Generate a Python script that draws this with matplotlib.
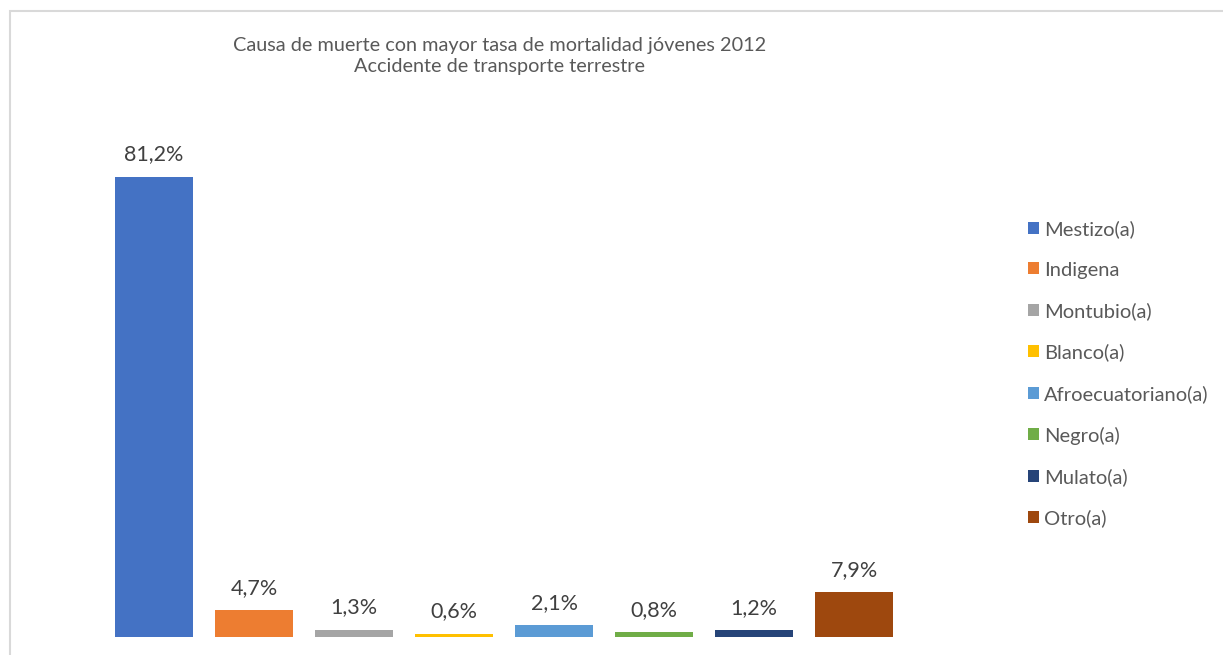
import matplotlib.pyplot as plt
from matplotlib.patches import Rectangle

categorias = ["Mestizo(a)", "Indigena", "Montubio(a)", "Blanco(a)",
              "Afroecuatoriano(a)", "Negro(a)", "Mulato(a)", "Otro(a)"]
valores = [81.2, 4.7, 1.3, 0.6, 2.1, 0.8, 1.2, 7.9]
colores = ["#4472C4", "#ED7D31", "#A5A5A5", "#FFC000",
           "#5B9BD5", "#70AD47", "#264478", "#9E480E"]
titulo = "Causa de muerte con mayor tasa de mortalidad jóvenes 2012\nAccidente de transporte terrestre"

plt.rcParams['font.family'] = ['Lato', 'DejaVu Sans']
gris = "#595959"

W, H = 1223, 655
fig = plt.figure(figsize=(W / 100, H / 100), dpi=100)

# marco del grafico
fig.patches.append(Rectangle((10 / W, -0.1), 1.2, 1 - 11 / H + 0.1,
                             transform=fig.transFigure, fill=False,
                             edgecolor="#d9d9d9", linewidth=1.5))

# ejes: x de -0.5 a 7.5 entre 104 y 904 px, y de 0 a 90 con base en 637 px
escala = 460 / 81.2
alto = 90 * escala
ax = fig.add_axes([104 / W, (H - 637) / H, 800 / W, alto / H])
ax.set_xlim(-0.5, 7.5)
ax.set_ylim(0, 90)
ax.axis("off")

barras = []
for i, (c, v, col) in enumerate(zip(categorias, valores, colores)):
    b = ax.bar(i, v, width=0.78, color=col, label=c)
    barras.append(b)
    ax.annotate(f"{v:.1f}%".replace(".", ","), (i, v), xytext=(0, 9),
                textcoords="offset points", ha="center", va="bottom",
                fontsize=15.5, color="#404040")

fig.text(500 / W, 1 - 56 / H, titulo, ha="center", va="center",
         fontsize=14.3, color=gris, linespacing=1.35)

fig.legend(handles=barras, labels=categorias, loc="upper left",
           bbox_to_anchor=(1020 / W, 1 - 212 / H), frameon=False,
           fontsize=14.5, labelcolor=gris, handlelength=0.55, handleheight=0.55,
           handletextpad=0.25, labelspacing=1.17, borderaxespad=0)

fig.savefig("out.png", dpi=100)
